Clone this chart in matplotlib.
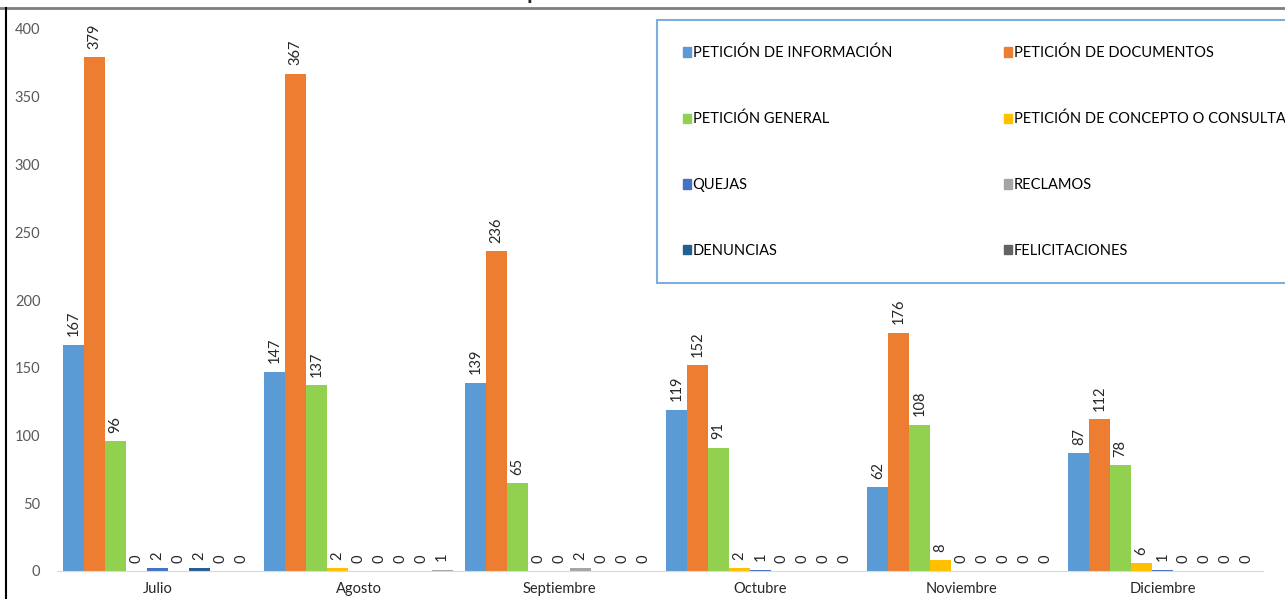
import matplotlib.pyplot as plt
import numpy as np
from matplotlib.patches import Patch
from matplotlib.lines import Line2D

plt.rcParams['font.family'] = ['Lato', 'DejaVu Sans']

# Data
months = ['Julio', 'Agosto', 'Septiembre', 'Octubre', 'Noviembre', 'Diciembre']
series = ['PETICIÓN DE INFORMACIÓN', 'PETICIÓN DE DOCUMENTOS', 'PETICIÓN GENERAL',
          'PETICIÓN DE CONCEPTO O CONSULTA', 'QUEJAS', 'RECLAMOS', 'DENUNCIAS',
          'FELICITACIONES', 'SUGERENCIAS']
info = [167, 147, 139, 119, 62, 87]
documentos = [379, 367, 236, 152, 176, 112]
general = [96, 137, 65, 91, 108, 78]
concepto = [0, 2, 0, 2, 8, 6]
quejas = [2, 0, 0, 1, 0, 1]
reclamos = [0, 0, 2, 0, 0, 0]
denuncias = [2, 0, 0, 0, 0, 0]
felicitaciones = [0, 0, 0, 0, 0, 0]
sugerencias = [0, 1, 0, 0, 0, 0]
values = [info, documentos, general, concepto, quejas, reclamos, denuncias,
          felicitaciones, sugerencias]
colors = ['#5B9BD5', '#ED7D31', '#92D050', '#FFC000', '#4472C4', '#A5A5A5',
          '#255E91', '#636363', '#A5A5A5']

fig = plt.figure(figsize=(12.85, 5.99), dpi=100)
ax = fig.add_axes([57 / 1285, 28 / 599, 1206 / 1285, 542 / 599])

x = np.arange(len(months))
n = len(series)
w = 0.104
for i, (name, vals, c) in enumerate(zip(series, values, colors)):
    pos = x + (i - (n - 1) / 2) * w
    ax.bar(pos, vals, width=w, color=c, label=name)
    for px, v in zip(pos, vals):
        ax.annotate(str(v), (px, v), xytext=(0, 6), textcoords='offset points',
                    ha='center', va='bottom', rotation=90, fontsize=10.5,
                    color='#262626')

ax.set_xlim(-0.5, len(months) - 0.5)
ax.set_ylim(0, 400)
ax.set_yticks(range(0, 401, 50))
ax.set_xticks(x)
ax.set_xticklabels(months, fontsize=10.5, color='#262626')
ax.tick_params(axis='y', length=0, pad=12, labelsize=10.5, labelcolor='#595959')
ax.tick_params(axis='x', length=0, pad=8)
for s in ['top', 'right', 'left']:
    ax.spines[s].set_visible(False)
ax.spines['bottom'].set_color('#D9D9D9')

# legend filled row by row (first 8 series only, as in the original)
order = [0, 2, 4, 6, 1, 3, 5, 7]
handles = [Patch(color=colors[k], label=series[k]) for k in order]
leg = fig.legend(handles=handles, ncol=2, loc='upper left',
                 bbox_to_anchor=(657 / 1285, 1 - 20 / 599), fontsize=10.5,
                 frameon=True, fancybox=False, handlelength=0.55,
                 handleheight=0.6, handletextpad=0.15, labelspacing=3.55,
                 columnspacing=7.65, borderpad=1.75, borderaxespad=0)
leg.get_frame().set_edgecolor('#5B9BD5')
leg.get_frame().set_linewidth(1.5)

# clipped title and outer frame of the original capture
fig.text(610 / 1285, 1 - 3 / 599, 'Gráfica No. 3 Tipo de Solicitudes en el Semestre',
         ha='center', va='bottom', fontsize=16, fontweight='bold', color='#262626')
fig.add_artist(Line2D([0, 1], [1 - 8 / 599] * 2, color='#7F7F7F', lw=2))
fig.add_artist(Line2D([6 / 1285] * 2, [0, 1 - 8 / 599], color='black', lw=1.5))

fig.savefig('out.png', dpi=100)
